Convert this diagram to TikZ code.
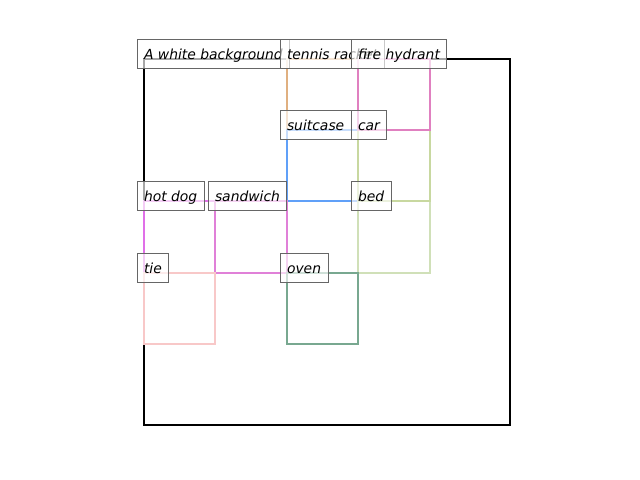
\documentclass[tikz,border=0pt]{standalone}
\usepackage{fontspec}
\setmainfont{DejaVu Sans}
\usepackage{tikz}

\definecolor{racketc}{HTML}{E0B080}
\definecolor{hydrantc}{HTML}{E080C0}
\definecolor{suitcasec}{HTML}{60A0F8}
\definecolor{carc}{HTML}{C8D8A0}
\definecolor{bedc}{HTML}{D0E0B8}
\definecolor{hotdogc}{HTML}{E070E8}
\definecolor{sandwichc}{HTML}{E080D8}
\definecolor{tiec}{HTML}{F8C8C8}
\definecolor{ovenc}{HTML}{78A890}

\begin{document}
\begin{tikzpicture}[x=0.72pt,y=-0.72pt]
\tikzstyle{box}=[line width=1.6pt]
\tikzstyle{tag}=[anchor=text,draw=black!60,line width=0.7pt,fill=white,fill opacity=0.65,
  text opacity=1,draw opacity=1,inner xsep=5pt,inner ysep=4pt,text height=9.7pt,text depth=2.5pt,
  font=\fontsize{10pt}{12pt}\selectfont\itshape]
\useasboundingbox (0,0) rectangle (640,480);

% boxes
\draw[box,black] (144,59) rectangle (510,425);
\draw[box,racketc] (287,59) rectangle (358,130);
\draw[box,suitcasec] (287,130) rectangle (358,201);
\draw[box,bedc] (358,201) rectangle (430,273);
\draw[box,carc] (358,130) rectangle (430,201);
\draw[box,hydrantc] (358,59) rectangle (430,130);
\draw[box,hotdogc] (144,201) rectangle (215,273);
\draw[box,sandwichc] (215,201) rectangle (287,273);
\draw[box,tiec] (144,273) rectangle (215,344);
\draw[box,ovenc] (287,273) rectangle (358,344);

% labels
\node[tag] (bg) at (144,59) {A white background};
\node[tag] (racket) at (287,59) {tennis racket};
\node[tag] (hydrant) at (358,59) {fire hydrant};
\node[tag] (suitcase) at (287,130) {suitcase};
\node[tag] (car) at (358,130) {car};
\node[tag] (hotdog) at (144,201) {hot dog};
\node[tag] (sandwich) at (215,201) {sandwich};
\node[tag] (bed) at (358,201) {bed};
\node[tag] (tie) at (144,273) {tie};
\node[tag] (oven) at (287,273) {oven};
\end{tikzpicture}
\end{document}
